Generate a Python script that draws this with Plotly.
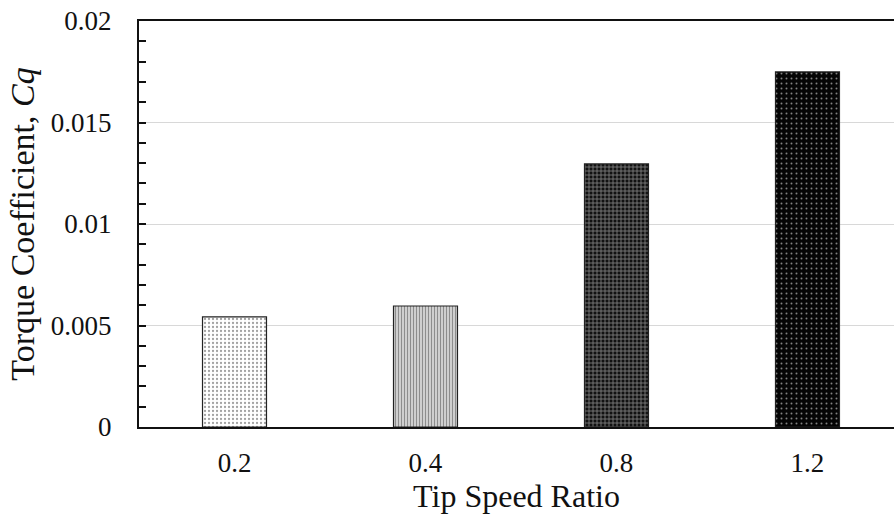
import plotly.graph_objects as go

categories = ["0.2", "0.4", "0.8", "1.2"]
torque_coeff = [0.00542, 0.00596, 0.01296, 0.01749]

pattern_shapes = [".", "|", "+", "."]
pattern_fg = ["#7a7a7a", "#9a9a9a", "#606060", "#9a9a9a"]
bar_colors = ["#ffffff", "#d6d6d6", "#121212", "#050505"]
pattern_size = [4, 3, 4, 5]
pattern_solidity = [0.25, 0.4, 0.35, 0.12]

fig = go.Figure()
fig.add_trace(go.Bar(
    x=list(range(len(categories))),
    y=torque_coeff,
    width=0.335,
    marker=dict(
        color=bar_colors,
        line=dict(color="#222222", width=1.2),
        pattern=dict(shape=pattern_shapes, fgcolor=pattern_fg,
                     size=pattern_size, solidity=pattern_solidity, fillmode="overlay"),
    ),
    showlegend=False,
))

font_family = "Liberation Serif, Times New Roman, serif"

fig.update_layout(
    width=894, height=516,
    margin=dict(l=139, r=0, t=21, b=89),
    plot_bgcolor="white", paper_bgcolor="white",
    font=dict(family=font_family, color="#111111"),
    xaxis=dict(
        tickmode="array", tickvals=list(range(len(categories))), ticktext=categories,
        range=[-0.5, 3.453],
        showline=True, linecolor="#111111", linewidth=2, mirror=True,
        ticks="", showgrid=False, zeroline=False,
        tickfont=dict(size=27, family=font_family),
        ticklabelstandoff=11,
        title=dict(text="Tip Speed Ratio", font=dict(size=32, family=font_family), standoff=4),
    ),
    yaxis=dict(
        range=[0, 0.02], tickvals=[0, 0.005, 0.01, 0.015, 0.02],
        ticktext=["0", "0.005", "0.01", "0.015", "0.02"],
        showline=True, linecolor="#111111", linewidth=2,
        ticks="inside", ticklen=7, tickwidth=2, tickcolor="#111111",
        minor=dict(dtick=0.001, ticks="inside", ticklen=7, tickwidth=2, tickcolor="#111111", showgrid=False),
        showgrid=True, gridcolor="#d8d8d8", gridwidth=1,
        zeroline=False,
        tickfont=dict(size=27, family=font_family),
        ticklabelstandoff=20,
        title=dict(text="Torque Coefficient, <i>Cq</i>", font=dict(size=34, family=font_family), standoff=6),
    ),
)

fig.write_html("out.html")
